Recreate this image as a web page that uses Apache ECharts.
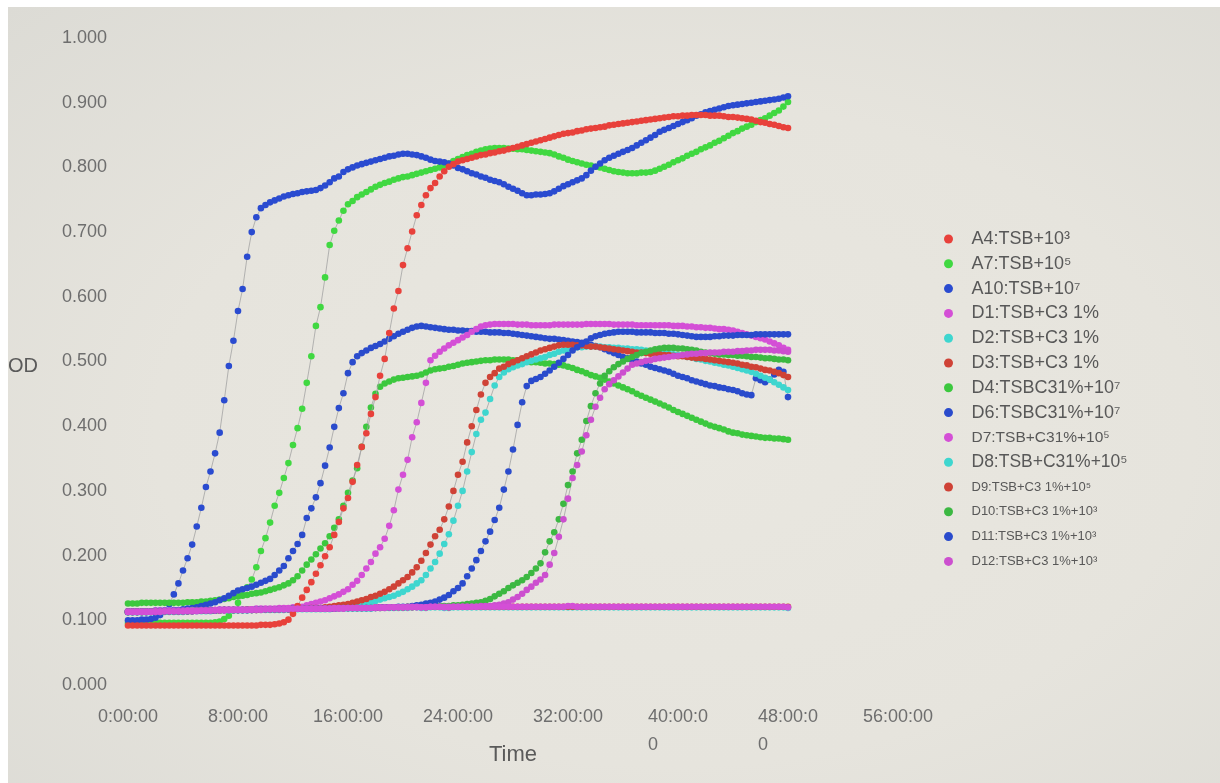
<!DOCTYPE html>
<html>
<head>
<meta charset="utf-8">
<title>OD growth curves</title>
<script src="https://cdn.jsdelivr.net/npm/echarts@6/dist/echarts.min.js"></script>
<style>
  html, body { margin: 0; padding: 0; background: #ffffff; }
  #paper {
    position: absolute; left: 8px; top: 7px; width: 1212px; height: 776px;
    background: radial-gradient(ellipse at 55% 55%, #e9e7e0 0%, #e6e4dd 55%, #dcdbd5 100%);
  }
  #chart { position: absolute; left: 0; top: 0; width: 1220px; height: 783px; }
</style>
</head>
<body>
<div id="paper"></div>
<div id="chart"></div>
<script>
// Plate reader readings, one every 20 minutes from 0 h to 48 h (145 readings per well).
const SAMPLE_STEP_HOURS = 1 / 3;

const X_TICK_LABELS = ['0:00:00', '8:00:00', '16:00:00', '24:00:00', '32:00:00', '40:00:0\n0', '48:00:0\n0', '56:00:00'];

const SERIES_NAMES = [
  'A4:TSB+10³', 'A7:TSB+10⁵', 'A10:TSB+10⁷',
  'D1:TSB+C3 1%', 'D2:TSB+C3 1%', 'D3:TSB+C3 1%',
  'D4:TSBC31%+10⁷', 'D6:TSBC31%+10⁷',
  'D7:TSB+C31%+10⁵', 'D8:TSB+C31%+10⁵',
  'D9:TSB+C3 1%+10⁵', 'D10:TSB+C3 1%+10³', 'D11:TSB+C3 1%+10³', 'D12:TSB+C3 1%+10³'
];

// OD readings per well
const A4 = [
  .092,.092,.092,.092,.092,.092,.092,.092,.092,.092,.092,.092,
  .092,.092,.092,.092,.092,.092,.092,.092,.092,.092,.092,.092,
  .092,.092,.092,.092,.092,.093,.093,.093,.094,.095,.097,.101,
  .110,.122,.135,.147,.159,.172,.185,.199,.213,.232,.252,.273,
  .289,.314,.340,.368,.389,.419,.445,.478,.504,.544,.582,.609,
  .649,.675,.701,.726,.742,.757,.768,.776,.786,.794,.801,.805,
  .809,.811,.813,.815,.817,.819,.820,.822,.823,.825,.826,.828,
  .830,.832,.834,.836,.838,.840,.842,.844,.846,.848,.850,.852,
  .853,.854,.856,.857,.859,.860,.861,.862,.863,.865,.866,.867,
  .868,.869,.870,.871,.872,.873,.874,.875,.876,.877,.878,.879,
  .879,.880,.880,.881,.881,.881,.881,.880,.880,.880,.879,.878,
  .878,.877,.876,.875,.874,.872,.870,.869,.867,.866,.864,.862,
  .861
];
const A7 = [
  .096,.096,.096,.096,.096,.096,.096,.096,.096,.096,.096,.096,
  .096,.096,.096,.096,.096,.096,.096,.097,.098,.102,.107,.115,
  .127,.139,.151,.163,.182,.207,.227,.251,.277,.297,.320,.343,
  .371,.397,.427,.467,.508,.555,.584,.630,.680,.702,.718,.733,
  .743,.748,.754,.758,.762,.766,.770,.773,.776,.778,.781,.783,
  .785,.786,.788,.790,.792,.794,.796,.798,.800,.803,.806,.810,
  .813,.816,.819,.821,.824,.826,.828,.829,.830,.830,.830,.829,
  .829,.828,.828,.827,.826,.825,.824,.823,.822,.820,.817,.815,
  .812,.810,.808,.806,.804,.803,.801,.800,.798,.796,.794,.793,
  .792,.791,.791,.791,.792,.792,.793,.795,.798,.801,.804,.808,
  .811,.814,.818,.821,.824,.828,.831,.834,.838,.841,.845,.849,
  .853,.856,.860,.863,.866,.870,.873,.876,.880,.884,.888,.894,
  .901
];
const A10 = [
  .100,.100,.100,.101,.101,.102,.104,.108,.115,.125,.140,.157,
  .177,.196,.217,.245,.274,.306,.330,.358,.390,.440,.493,.532,
  .578,.612,.662,.700,.723,.737,.742,.746,.749,.752,.755,.757,
  .759,.760,.762,.763,.764,.765,.768,.772,.777,.783,.786,.793,
  .797,.800,.803,.805,.807,.809,.811,.813,.815,.817,.818,.820,
  .821,.821,.820,.819,.817,.815,.812,.810,.809,.808,.806,.803,
  .799,.797,.794,.791,.789,.786,.784,.781,.779,.777,.774,.770,
  .767,.764,.760,.757,.757,.758,.758,.759,.760,.763,.767,.771,
  .774,.777,.780,.783,.788,.795,.801,.806,.811,.815,.818,.821,
  .824,.827,.830,.834,.838,.842,.846,.850,.855,.858,.861,.864,
  .867,.870,.873,.876,.880,.882,.885,.887,.889,.891,.893,.895,
  .896,.897,.898,.899,.900,.901,.902,.903,.904,.905,.906,.908,
  .910
];
const D1 = [
  .113,.113,.113,.113,.113,.113,.114,.114,.114,.114,.114,.114,
  .114,.115,.115,.115,.115,.115,.115,.116,.116,.116,.116,.116,
  .116,.116,.116,.117,.117,.117,.117,.117,.117,.117,.117,.118,
  .118,.118,.118,.118,.118,.118,.118,.118,.118,.119,.119,.119,
  .119,.119,.119,.119,.119,.119,.120,.120,.120,.120,.120,.120,
  .120,.120,.121,.121,.120,.120,.121,.121,.121,.120,.120,.121,
  .121,.121,.121,.121,.121,.121,.121,.121,.121,.121,.121,.121,
  .121,.121,.121,.121,.121,.121,.121,.121,.121,.121,.121,.121,
  .122,.122,.121,.121,.121,.121,.121,.121,.121,.121,.121,.121,
  .121,.121,.121,.121,.121,.121,.121,.121,.121,.121,.121,.121,
  .121,.121,.121,.121,.121,.121,.121,.121,.121,.121,.121,.121,
  .121,.121,.121,.121,.121,.121,.121,.121,.121,.121,.121,.121,
  .120
];
const D2 = [
  .112,.112,.112,.112,.112,.112,.113,.113,.113,.113,.113,.113,
  .113,.114,.114,.114,.114,.114,.114,.115,.115,.115,.115,.115,
  .115,.115,.115,.116,.116,.116,.116,.116,.116,.116,.116,.117,
  .117,.117,.117,.117,.117,.117,.117,.117,.117,.118,.118,.118,
  .118,.118,.118,.118,.118,.118,.119,.119,.119,.119,.119,.119,
  .119,.119,.120,.120,.119,.119,.120,.120,.120,.119,.119,.120,
  .120,.120,.120,.120,.120,.120,.120,.120,.120,.120,.120,.120,
  .120,.120,.120,.120,.120,.120,.120,.120,.120,.120,.120,.120,
  .120,.120,.120,.120,.120,.120,.120,.120,.120,.120,.120,.120,
  .120,.120,.120,.120,.120,.120,.120,.120,.120,.120,.120,.120,
  .120,.120,.120,.120,.120,.120,.120,.120,.120,.120,.120,.120,
  .120,.120,.120,.120,.120,.120,.120,.120,.120,.120,.120,.120,
  .119
];
const D3 = [
  .113,.113,.113,.113,.113,.114,.114,.114,.114,.114,.114,.114,
  .115,.115,.115,.115,.115,.115,.116,.116,.116,.116,.116,.116,
  .116,.116,.117,.117,.117,.117,.117,.117,.117,.117,.118,.118,
  .118,.118,.118,.118,.118,.118,.118,.119,.119,.119,.119,.119,
  .119,.119,.119,.119,.120,.120,.120,.120,.120,.120,.120,.120,
  .120,.121,.121,.121,.121,.120,.121,.121,.121,.121,.120,.121,
  .121,.121,.121,.121,.121,.121,.121,.121,.121,.121,.121,.121,
  .121,.121,.121,.121,.121,.121,.121,.121,.121,.121,.121,.121,
  .121,.121,.121,.121,.121,.121,.121,.121,.121,.121,.121,.121,
  .121,.121,.121,.121,.121,.121,.121,.121,.121,.121,.121,.121,
  .121,.121,.121,.121,.121,.121,.121,.121,.121,.121,.121,.121,
  .121,.121,.121,.121,.121,.121,.121,.121,.121,.121,.121,.121,
  .121
];
const D4 = [
  .126,.126,.126,.127,.127,.127,.127,.127,.127,.127,.127,.127,
  .127,.128,.128,.128,.129,.129,.130,.131,.132,.133,.134,.136,
  .137,.138,.139,.141,.142,.143,.145,.147,.149,.151,.154,.157,
  .162,.168,.177,.186,.194,.202,.211,.219,.230,.243,.256,.277,
  .297,.316,.335,.368,.399,.429,.450,.461,.466,.469,.472,.474,
  .475,.476,.477,.478,.480,.483,.486,.488,.489,.490,.492,.493,
  .495,.497,.498,.499,.500,.501,.502,.502,.503,.503,.503,.503,
  .502,.502,.501,.500,.499,.499,.498,.497,.497,.496,.495,.494,
  .492,.490,.487,.485,.482,.479,.477,.475,.472,.469,.466,.463,
  .460,.457,.454,.450,.447,.444,.441,.438,.435,.432,.429,.425,
  .422,.419,.416,.413,.410,.407,.404,.401,.399,.397,.395,.392,
  .390,.389,.387,.386,.385,.384,.383,.382,.382,.381,.381,.380,
  .379
];
const D6 = [
  .114,.114,.114,.114,.114,.114,.115,.115,.115,.115,.116,.116,
  .117,.118,.119,.120,.122,.124,.126,.128,.131,.134,.138,.142,
  .146,.148,.150,.152,.155,.158,.161,.164,.170,.177,.184,.196,
  .207,.218,.232,.258,.273,.290,.312,.339,.367,.399,.428,.451,
  .482,.499,.508,.513,.517,.521,.524,.527,.531,.535,.539,.543,
  .546,.549,.552,.554,.555,.554,.553,.552,.551,.550,.549,.549,
  .548,.548,.547,.547,.546,.546,.546,.545,.545,.545,.544,.544,
  .543,.542,.541,.540,.539,.538,.537,.536,.535,.535,.534,.533,
  .532,.531,.530,.529,.528,.526,.524,.522,.519,.516,.513,.510,
  .507,.505,.502,.500,.497,.495,.492,.490,.488,.486,.484,.481,
  .478,.476,.474,.471,.469,.467,.465,.463,.462,.460,.459,.457,
  .456,.454,.451,.449,.448,.474,.471,.468,.472,.480,.487,.484,
  .445
];
const D7 = [
  .114,.114,.114,.114,.114,.114,.115,.115,.115,.115,.115,.115,
  .115,.115,.116,.116,.116,.116,.116,.116,.117,.117,.117,.117,
  .117,.117,.117,.117,.118,.118,.118,.118,.118,.119,.119,.119,
  .120,.120,.121,.123,.125,.127,.129,.131,.134,.137,.140,.144,
  .148,.155,.161,.170,.180,.190,.203,.213,.226,.246,.270,.302,
  .325,.348,.383,.406,.436,.467,.502,.509,.515,.520,.525,.529,
  .533,.537,.541,.546,.550,.554,.556,.557,.558,.558,.558,.558,
  .558,.557,.557,.557,.556,.556,.556,.556,.556,.557,.557,.557,
  .557,.557,.557,.557,.558,.558,.558,.558,.558,.558,.557,.557,
  .557,.557,.557,.556,.556,.556,.556,.556,.556,.556,.556,.555,
  .555,.555,.554,.554,.553,.553,.552,.552,.551,.550,.550,.549,
  .548,.546,.544,.542,.540,.538,.536,.534,.531,.528,.525,.521,
  .518
];
const D8 = [
  .113,.113,.113,.113,.113,.113,.113,.114,.114,.114,.114,.114,
  .114,.114,.115,.115,.115,.115,.115,.115,.116,.116,.116,.116,
  .116,.116,.116,.116,.117,.117,.117,.117,.117,.117,.117,.117,
  .118,.118,.118,.118,.118,.118,.119,.119,.119,.119,.120,.120,
  .121,.122,.123,.124,.126,.128,.130,.132,.134,.136,.138,.141,
  .144,.148,.152,.157,.162,.170,.180,.190,.203,.218,.233,.254,
  .277,.300,.330,.360,.388,.410,.421,.442,.463,.476,.483,.488,
  .491,.494,.496,.499,.501,.503,.505,.507,.510,.512,.515,.517,
  .519,.521,.522,.522,.523,.523,.523,.523,.522,.522,.521,.521,
  .520,.520,.519,.519,.518,.517,.516,.515,.514,.513,.512,.511,
  .510,.509,.507,.506,.504,.503,.501,.500,.498,.497,.495,.494,
  .492,.490,.488,.486,.484,.481,.478,.475,.472,.468,.464,.460,
  .456
];
const D9 = [
  .113,.113,.113,.113,.113,.113,.113,.114,.114,.114,.114,.114,
  .114,.114,.114,.115,.115,.115,.115,.115,.115,.116,.116,.116,
  .116,.116,.116,.116,.116,.117,.117,.117,.117,.117,.117,.117,
  .118,.118,.118,.118,.119,.119,.119,.120,.121,.122,.123,.124,
  .125,.127,.129,.131,.133,.136,.138,.141,.144,.148,.152,.157,
  .162,.167,.174,.182,.192,.204,.217,.230,.240,.256,.276,.300,
  .325,.345,.375,.400,.425,.449,.467,.476,.482,.489,.492,.496,
  .499,.502,.505,.508,.511,.514,.517,.519,.521,.523,.525,.526,
  .526,.526,.525,.525,.524,.523,.523,.522,.521,.520,.519,.518,
  .517,.516,.515,.514,.514,.513,.512,.512,.511,.510,.510,.509,
  .508,.508,.507,.506,.505,.505,.504,.503,.502,.501,.500,.499,
  .498,.497,.495,.494,.492,.491,.489,.487,.486,.484,.482,.479,
  .476
];
const D10 = [
  .113,.113,.113,.113,.113,.113,.114,.114,.114,.114,.114,.114,
  .114,.114,.115,.115,.115,.115,.115,.115,.115,.116,.116,.116,
  .116,.116,.116,.116,.116,.117,.117,.117,.117,.117,.117,.117,
  .118,.118,.118,.118,.118,.118,.118,.118,.118,.118,.119,.119,
  .119,.119,.119,.119,.119,.119,.119,.119,.120,.120,.120,.120,
  .120,.120,.120,.121,.121,.121,.121,.121,.122,.122,.122,.123,
  .123,.124,.125,.126,.127,.128,.130,.133,.137,.141,.145,.150,
  .154,.158,.162,.167,.173,.180,.188,.205,.222,.236,.256,.280,
  .309,.330,.358,.379,.408,.431,.451,.466,.478,.485,.491,.496,
  .500,.504,.507,.510,.513,.515,.517,.519,.520,.521,.521,.521,
  .520,.520,.519,.518,.517,.515,.514,.513,.512,.511,.511,.510,
  .510,.509,.509,.508,.507,.507,.506,.505,.505,.504,.503,.503,
  .502
];
const D11 = [
  .113,.113,.113,.113,.113,.113,.113,.114,.114,.114,.114,.114,
  .114,.114,.114,.115,.115,.115,.115,.115,.116,.116,.116,.116,
  .116,.116,.116,.116,.117,.117,.117,.117,.117,.117,.117,.117,
  .118,.118,.118,.118,.118,.118,.118,.118,.118,.118,.119,.119,
  .119,.119,.119,.119,.119,.119,.119,.120,.120,.120,.120,.121,
  .121,.121,.122,.123,.124,.126,.127,.129,.132,.135,.139,.145,
  .150,.157,.168,.180,.193,.207,.222,.237,.255,.274,.302,.330,
  .364,.402,.437,.462,.470,.473,.476,.481,.486,.492,.498,.504,
  .510,.517,.522,.527,.531,.536,.539,.541,.543,.544,.545,.546,
  .546,.546,.546,.545,.545,.545,.545,.544,.544,.544,.543,.543,
  .542,.541,.540,.539,.538,.538,.538,.538,.539,.539,.540,.540,
  .540,.541,.541,.541,.541,.542,.542,.542,.542,.542,.542,.542,
  .542
];
const D12 = [
  .113,.113,.113,.113,.113,.113,.113,.113,.114,.114,.114,.114,
  .114,.114,.114,.114,.115,.115,.115,.115,.115,.115,.116,.116,
  .116,.116,.116,.116,.116,.116,.117,.117,.117,.117,.117,.117,
  .117,.118,.118,.118,.118,.118,.118,.118,.118,.118,.118,.118,
  .119,.119,.119,.119,.119,.119,.119,.119,.119,.120,.120,.120,
  .120,.120,.120,.120,.120,.120,.121,.121,.121,.121,.121,.121,
  .121,.121,.121,.121,.121,.122,.122,.122,.123,.124,.126,.128,
  .132,.136,.141,.147,.152,.158,.163,.170,.186,.204,.229,.256,
  .288,.320,.340,.361,.386,.410,.430,.444,.457,.465,.471,.477,
  .483,.489,.495,.497,.499,.501,.502,.504,.505,.506,.507,.508,
  .509,.510,.511,.512,.512,.513,.513,.514,.514,.514,.515,.515,
  .515,.516,.516,.517,.517,.518,.518,.518,.518,.517,.517,.516,
  .515
];

const SERIES_VALUES = [A4, A7, A10, D1, D2, D3, D4, D6, D7, D8, D9, D10, D11, D12];

// marker colours, one per well
const COLORS = [
  '#e8413b', '#40d841', '#2a4bd0',
  '#d44fd6', '#3ed6cf', '#cf4236',
  '#3cc83e', '#2a4bcc',
  '#d44fd6', '#3ed6cf',
  '#cf4236', '#3cb842', '#2a4bcc', '#cc4fcf'
];
// legend font sizes
const LEGEND_FONT = [18, 18, 18, 18, 18, 18, 18, 18, 15.5, 17.5, 13, 13, 13, 13];
// wells drawn above the rest
const TOP_LAYER = { 'A4:TSB+10³': 3, 'D1:TSB+C3 1%': 4 };

const FONT = "'Liberation Sans', Arial, sans-serif";
const hours = A4.map((_, i) => i * SAMPLE_STEP_HOURS);

const series = SERIES_NAMES.map((name, k) => ({
  name: name,
  type: 'line',
  data: SERIES_VALUES[k].map((v, i) => [hours[i], v]),
  symbol: 'circle',
  symbolSize: 6.6,
  showSymbol: true,
  showAllSymbol: true,
  z: TOP_LAYER[name] || 2,
  itemStyle: { color: COLORS[k] },
  lineStyle: { color: '#a3a3a3', width: 0.8 },
  emphasis: { disabled: true },
  animation: false
}));

const chart = echarts.init(document.getElementById('chart'), null, { renderer: 'canvas' });
chart.setOption({
  backgroundColor: 'transparent',
  animation: false,
  grid: { left: 128, right: 322, top: 38, bottom: 98, containLabel: false, outerBoundsMode: 'none' },
  xAxis: {
    type: 'value',
    min: 0, max: 56, interval: 8,
    name: 'Time',
    nameLocation: 'middle',
    nameGap: 59,
    nameMoveOverlap: false,
    nameTextStyle: { fontFamily: FONT, fontSize: 22, color: '#5a5a5a' },
    axisLine: { show: false },
    axisTick: { show: false },
    splitLine: { show: false },
    axisLabel: {
      margin: 18,
      formatter: function (v) {
        const lines = X_TICK_LABELS[Math.round(v / 8)].split('\n');
        return lines.map((s, j) => (j === 0 ? '{a|' + s + '}' : '{b|' + s + '}')).join('\n');
      },
      rich: {
        a: { fontFamily: FONT, fontSize: 18, color: '#6e6e6e', lineHeight: 28 },
        b: { fontFamily: FONT, fontSize: 18, color: '#6e6e6e', lineHeight: 28, align: 'left' }
      }
    }
  },
  yAxis: {
    type: 'value',
    min: 0, max: 1, interval: 0.1,
    axisLine: { show: false },
    axisTick: { show: false },
    splitLine: { show: false },
    axisLabel: {
      margin: 21,
      fontFamily: FONT, fontSize: 18, color: '#6e6e6e',
      formatter: v => v.toFixed(3)
    }
  },
  legend: {
    orient: 'vertical',
    left: 939, top: 224,
    icon: 'circle',
    itemWidth: 36, itemHeight: 9,
    itemGap: 4.8,
    textStyle: { fontFamily: FONT, fontSize: 18, color: '#585858', lineHeight: 20 },
    data: SERIES_NAMES.map((n, k) => ({ name: n, textStyle: { fontSize: LEGEND_FONT[k], lineHeight: 20 } })),
    selectedMode: false
  },
  graphic: [{
    type: 'text', left: 8, top: 356, silent: true,
    style: { text: 'OD', fontFamily: FONT, fontSize: 20, fill: '#5a5a5a' }
  }],
  series: series
});
</script>
</body>
</html>
